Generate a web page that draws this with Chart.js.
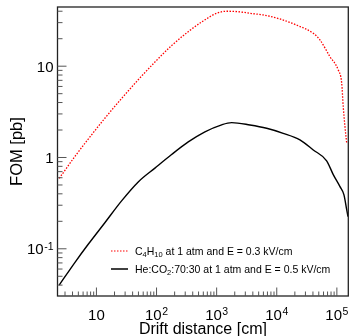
<!DOCTYPE html>
<html>
<head>
<meta charset="utf-8">
<script src="https://cdn.jsdelivr.net/npm/chart.js@4"></script>
<style>
  html, body { margin: 0; padding: 0; background: #ffffff; }
  #wrap { width: 350px; height: 336px; }
</style>
</head>
<body>
<div id="wrap"><canvas id="fom" width="350" height="336"></canvas></div>
<script>
// Drift distance [cm] and FOM [pb] for the C4H10 mixture
const c4h10Distance = [2.4, 4.4, 7.3, 13.8, 26.2, 49.6, 94, 178, 337, 598, 1000, 1500, 2500, 3580, 5960, 11300, 21400, 40500, 52300, 76800, 105500, 120200, 127700, 136400, 145500];
const c4h10Fom      = [0.59, 1.03, 1.59, 2.69, 4.43, 7.1, 11.1, 16.8, 23.9, 31.3, 38.0, 40.0, 39.3, 37.9, 36.4, 32.9, 28.2, 22.9, 19.4, 12.7, 9.1, 6.55, 3.6, 2.17, 1.45];

// Drift distance [cm] and FOM [pb] for the He:CO2 70:30 mixture
const heco2Distance = [2.4, 4.4, 7.3, 13.8, 26.2, 49.6, 94, 178, 337, 638, 1211, 1778, 3580, 6790, 12800, 24300, 40500, 67600, 87100, 112700, 131300, 145500, 153000];
const heco2Fom      = [0.040, 0.0711, 0.112, 0.193, 0.335, 0.54, 0.765, 1.077, 1.48, 1.91, 2.28, 2.41, 2.27, 2.09, 1.84, 1.56, 1.21, 0.92, 0.65, 0.48, 0.39, 0.27, 0.225];

// Axis ranges
const xRange = [2.25, 1.55e5];
const yRange = [0.0304, 44.5];

// Decade tick labels: [base, exponent]
const xTickValues = [10, 100, 1000, 10000, 100000];
const xTickLabels = [['10', ''], ['10', '2'], ['10', '3'], ['10', '4'], ['10', '5']];
const yTickValues = [0.1, 1, 10];
const yTickLabels = [['10', '-1'], ['1', ''], ['10', '']];

const xTitle = 'Drift distance [cm]';
const yTitle = 'FOM [pb]';

const FONT = '"Liberation Sans", Arial, Helvetica, sans-serif';

function toPoints(xs, ys) {
  return xs.map((x, i) => ({ x: x, y: ys[i] }));
}

// Minor tick values (1..9 x 10^n) inside a range
function minorTicks(lo, hi) {
  const out = [];
  for (let e = Math.floor(Math.log10(lo)); e <= Math.ceil(Math.log10(hi)); e++) {
    for (let m = 1; m <= 9; m++) {
      const v = m * Math.pow(10, e);
      if (v >= lo && v <= hi) out.push({ v: v, major: m === 1 });
    }
  }
  return out;
}

function drawExpLabel(ctx, base, exp, x, y, align) {
  ctx.font = '15px ' + FONT;
  const bw = ctx.measureText(base).width;
  ctx.font = '10.5px ' + FONT;
  const ew = exp ? ctx.measureText(exp).width + 0.5 : 0;
  const total = bw + ew;
  const left = align === 'center' ? x - total / 2 : x - total;
  ctx.textAlign = 'left';
  ctx.textBaseline = 'alphabetic';
  ctx.font = '15px ' + FONT;
  ctx.fillText(base, left, y);
  if (exp) {
    ctx.font = '10.5px ' + FONT;
    ctx.fillText(exp, left + bw + 0.5, y - 4.5);
  }
}

// Text with subscripts: parts = [[text, isSub], ...]
function drawSubText(ctx, parts, x, y) {
  let cx = x;
  parts.forEach(p => {
    ctx.font = (p[1] ? '7.5px ' : '10.5px ') + FONT;
    ctx.fillText(p[0], cx, p[1] ? y + 2 : y);
    cx += ctx.measureText(p[0]).width;
  });
}

const framePlugin = {
  id: 'rootFrame',
  afterDraw(chart) {
    const ctx = chart.ctx;
    const a = chart.chartArea;
    const xs = chart.scales.x;
    const ys = chart.scales.y;
    ctx.save();

    // frame
    ctx.strokeStyle = '#222';
    ctx.lineWidth = 1.3;
    ctx.strokeRect(a.left, a.top, a.right - a.left, a.bottom - a.top);

    // x ticks (inside, pointing up)
    ctx.lineWidth = 1;
    ctx.strokeStyle = '#555';
    minorTicks(xRange[0], xRange[1]).forEach(t => {
      const px = xs.getPixelForValue(t.v);
      if (px <= a.left + 1 || px >= a.right - 1) return;
      ctx.beginPath();
      ctx.moveTo(px, a.bottom);
      ctx.lineTo(px, a.bottom - (t.major ? 8.5 : 4.5));
      ctx.stroke();
    });
    // y ticks (inside, pointing right)
    minorTicks(yRange[0], yRange[1]).forEach(t => {
      const py = ys.getPixelForValue(t.v);
      if (py <= a.top + 1 || py >= a.bottom - 1) return;
      ctx.beginPath();
      ctx.moveTo(a.left, py);
      ctx.lineTo(a.left + (t.major ? 9 : 5), py);
      ctx.stroke();
    });

    // tick labels
    ctx.fillStyle = '#000';
    xTickValues.forEach((v, i) => {
      const px = xs.getPixelForValue(v);
      drawExpLabel(ctx, xTickLabels[i][0], xTickLabels[i][1], px, 319.5, 'center');
    });
    yTickValues.forEach((v, i) => {
      const py = ys.getPixelForValue(v);
      drawExpLabel(ctx, yTickLabels[i][0], yTickLabels[i][1], a.left - 4, py + 5.5, 'right');
    });

    // axis titles
    ctx.font = '16px ' + FONT;
    ctx.textAlign = 'center';
    ctx.textBaseline = 'alphabetic';
    ctx.fillText(xTitle, (a.left + a.right) / 2, 333.5);
    ctx.save();
    ctx.translate(21.5, (a.top + a.bottom) / 2);
    ctx.rotate(-Math.PI / 2);
    ctx.font = '16.5px ' + FONT;
    ctx.fillText(yTitle, 0, 0);
    ctx.restore();

    // legend
    ctx.textAlign = 'left';
    ctx.lineWidth = 1.2;
    ctx.strokeStyle = '#ff0000';
    ctx.setLineDash([1.5, 1.5]);
    ctx.beginPath();
    ctx.moveTo(111, 251);
    ctx.lineTo(128, 251);
    ctx.stroke();
    ctx.setLineDash([]);
    ctx.strokeStyle = '#000';
    ctx.lineWidth = 1.5;
    ctx.beginPath();
    ctx.moveTo(111, 269);
    ctx.lineTo(128, 269);
    ctx.stroke();
    ctx.fillStyle = '#000';
    drawSubText(ctx, [['C', false], ['4', true], ['H', false], ['10', true], [' at 1 atm and E = 0.3 kV/cm', false]], 135, 255);
    drawSubText(ctx, [['He:CO', false], ['2', true], [':70:30 at 1 atm and E = 0.5 kV/cm', false]], 135, 272.8);

    ctx.restore();
  }
};

new Chart(document.getElementById('fom'), {
  type: 'line',
  data: {
    datasets: [
      {
        label: 'C4H10 at 1 atm and E = 0.3 kV/cm',
        data: toPoints(c4h10Distance, c4h10Fom),
        borderColor: '#ff0000',
        borderWidth: 1.3,
        borderDash: [1.5, 1.5],
        pointRadius: 0,
        fill: false,
        cubicInterpolationMode: 'monotone'
      },
      {
        label: 'He:CO2:70:30 at 1 atm and E = 0.5 kV/cm',
        data: toPoints(heco2Distance, heco2Fom),
        borderColor: '#000000',
        borderWidth: 1.4,
        pointRadius: 0,
        fill: false,
        cubicInterpolationMode: 'monotone'
      }
    ]
  },
  options: {
    responsive: false,
    animation: false,
    devicePixelRatio: 1,
    layout: { padding: { left: 57.5, top: 7, right: 1.7, bottom: 40 } },
    scales: {
      x: { type: 'logarithmic', min: xRange[0], max: xRange[1], display: false },
      y: { type: 'logarithmic', min: yRange[0], max: yRange[1], display: false }
    },
    plugins: {
      legend: { display: false },
      tooltip: { enabled: false }
    }
  },
  plugins: [framePlugin]
});
</script>
</body>
</html>
